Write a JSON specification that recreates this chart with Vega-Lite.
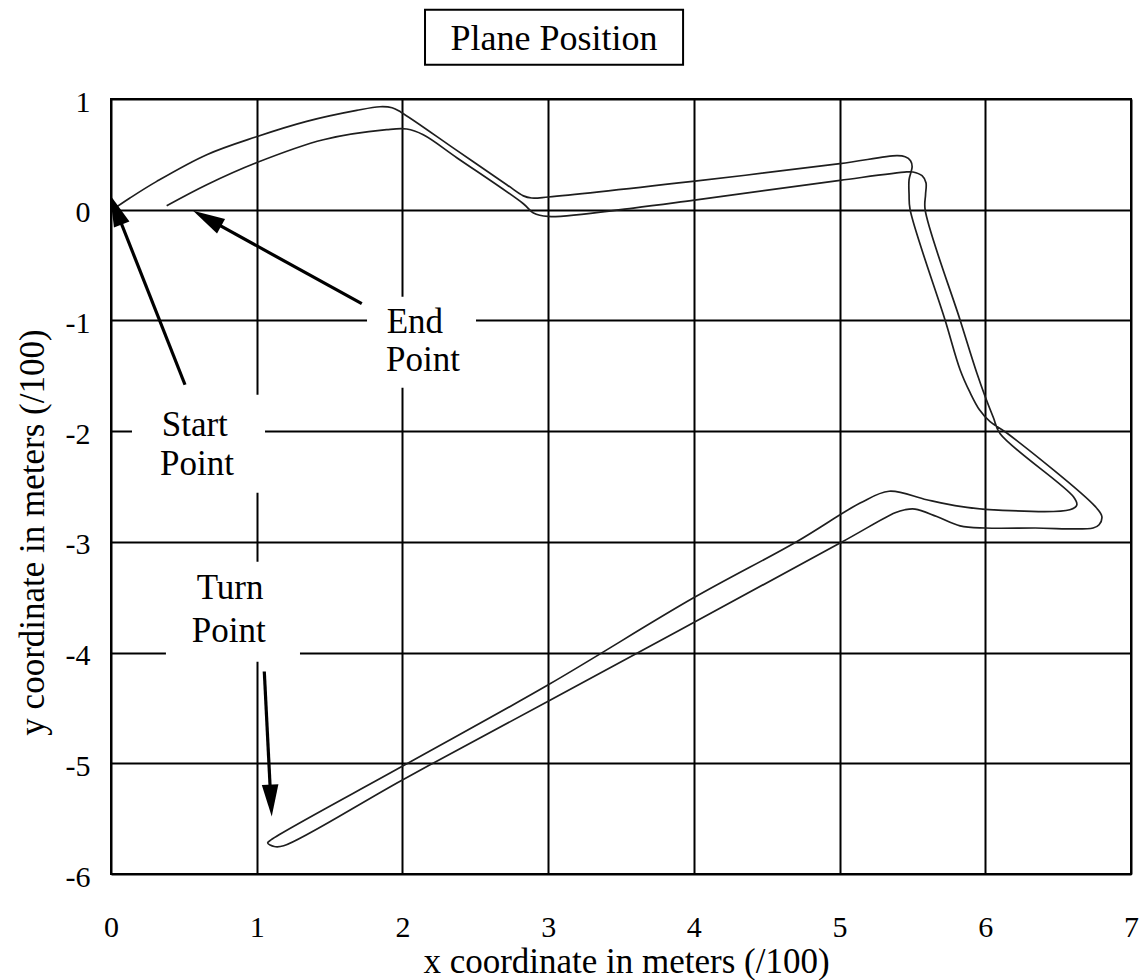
{
  "$schema": "https://vega.github.io/schema/vega-lite/v6.json",
  "width": 1020,
  "height": 775,
  "autosize": {"type": "none"},
  "padding": {"left": 111, "top": 99, "right": 10, "bottom": 106},
  "background": "white",
  "config": {
    "view": {"stroke": "black", "strokeWidth": 2},
    "font": "Liberation Serif",
    "axis": {
      "grid": true,
      "gridColor": "#000000",
      "gridWidth": 2,
      "gridOpacity": 1,
      "domain": false,
      "ticks": false,
      "tickSize": 0,
      "labelFont": "Liberation Serif",
      "labelFontSize": 30,
      "labelColor": "#000000",
      "labelFlush": false,
      "labelOverlap": false,
      "labelBound": false,
      "titleFont": "Liberation Serif",
      "titleFontSize": 35,
      "titleFontWeight": "normal",
      "titleColor": "#000000"
    }
  },
  "datasets": {
    "path": [
      {"i": 1, "x": 0.027, "y": 0.015},
      {"i": 2, "x": 0.13, "y": 0.106},
      {"i": 3, "x": 0.314, "y": 0.256},
      {"i": 4, "x": 0.657, "y": 0.497},
      {"i": 5, "x": 0.993, "y": 0.657},
      {"i": 6, "x": 1.343, "y": 0.798},
      {"i": 7, "x": 1.686, "y": 0.897},
      {"i": 8, "x": 1.846, "y": 0.93},
      {"i": 9, "x": 1.929, "y": 0.921},
      {"i": 10, "x": 1.99, "y": 0.881},
      {"i": 11, "x": 2.373, "y": 0.536},
      {"i": 12, "x": 2.716, "y": 0.226},
      {"i": 13, "x": 2.83, "y": 0.125},
      {"i": 14, "x": 2.887, "y": 0.106},
      {"i": 15, "x": 3.001, "y": 0.115},
      {"i": 16, "x": 3.992, "y": 0.256},
      {"i": 17, "x": 5.003, "y": 0.416},
      {"i": 18, "x": 5.393, "y": 0.488},
      {"i": 19, "x": 5.45, "y": 0.479},
      {"i": 20, "x": 5.487, "y": 0.443},
      {"i": 21, "x": 5.498, "y": 0.388},
      {"i": 22, "x": 5.477, "y": 0.271},
      {"i": 23, "x": 5.477, "y": 0.136},
      {"i": 24, "x": 5.484, "y": 0.0},
      {"i": 25, "x": 5.724, "y": -0.996},
      {"i": 26, "x": 5.827, "y": -1.445},
      {"i": 27, "x": 5.896, "y": -1.653},
      {"i": 28, "x": 5.96, "y": -1.807},
      {"i": 29, "x": 6.033, "y": -1.915},
      {"i": 30, "x": 6.148, "y": -2.017},
      {"i": 31, "x": 6.754, "y": -2.68},
      {"i": 32, "x": 6.8, "y": -2.771},
      {"i": 33, "x": 6.781, "y": -2.846},
      {"i": 34, "x": 6.74, "y": -2.875},
      {"i": 35, "x": 6.342, "y": -2.875},
      {"i": 36, "x": 5.999, "y": -2.875},
      {"i": 37, "x": 5.827, "y": -2.855},
      {"i": 38, "x": 5.667, "y": -2.771},
      {"i": 39, "x": 5.518, "y": -2.704},
      {"i": 40, "x": 5.449, "y": -2.71},
      {"i": 41, "x": 5.381, "y": -2.737},
      {"i": 42, "x": 5.003, "y": -3.011},
      {"i": 43, "x": 3.0, "y": -4.44},
      {"i": 44, "x": 2.0, "y": -5.15},
      {"i": 45, "x": 1.185, "y": -5.745},
      {"i": 46, "x": 1.12, "y": -5.752},
      {"i": 47, "x": 1.075, "y": -5.72},
      {"i": 48, "x": 1.1, "y": -5.69},
      {"i": 49, "x": 2.005, "y": -5.023},
      {"i": 50, "x": 3.001, "y": -4.291},
      {"i": 51, "x": 3.995, "y": -3.508},
      {"i": 52, "x": 4.708, "y": -2.996},
      {"i": 53, "x": 5.141, "y": -2.65},
      {"i": 54, "x": 5.34, "y": -2.543},
      {"i": 55, "x": 5.598, "y": -2.62},
      {"i": 56, "x": 5.827, "y": -2.68},
      {"i": 57, "x": 6.0, "y": -2.706},
      {"i": 58, "x": 6.58, "y": -2.71},
      {"i": 59, "x": 6.628, "y": -2.667},
      {"i": 60, "x": 6.605, "y": -2.593},
      {"i": 61, "x": 6.102, "y": -2.023},
      {"i": 62, "x": 6.056, "y": -1.879},
      {"i": 63, "x": 5.999, "y": -1.687},
      {"i": 64, "x": 5.942, "y": -1.475},
      {"i": 65, "x": 5.827, "y": -0.996},
      {"i": 66, "x": 5.587, "y": 0.0},
      {"i": 67, "x": 5.59, "y": 0.136},
      {"i": 68, "x": 5.593, "y": 0.244},
      {"i": 69, "x": 5.566, "y": 0.307},
      {"i": 70, "x": 5.504, "y": 0.341},
      {"i": 71, "x": 5.461, "y": 0.341},
      {"i": 72, "x": 5.003, "y": 0.265},
      {"i": 73, "x": 3.992, "y": 0.084},
      {"i": 74, "x": 3.585, "y": 0.015},
      {"i": 75, "x": 2.999, "y": -0.061},
      {"i": 76, "x": 2.899, "y": -0.03},
      {"i": 77, "x": 2.83, "y": 0.054},
      {"i": 78, "x": 2.373, "y": 0.47},
      {"i": 79, "x": 2.143, "y": 0.677},
      {"i": 80, "x": 2.03, "y": 0.729},
      {"i": 81, "x": 1.892, "y": 0.723},
      {"i": 82, "x": 1.457, "y": 0.632},
      {"i": 83, "x": 0.993, "y": 0.422},
      {"i": 84, "x": 0.657, "y": 0.226},
      {"i": 85, "x": 0.382, "y": 0.036}
    ],
    "boxes": [
      {"label": "Start Point", "x": 0.144, "x2": 1.057, "y": -1.671, "y2": -2.556},
      {"label": "End Point", "x": 1.757, "x2": 2.505, "y": -0.786, "y2": -1.608},
      {"label": "Turn Point", "x": 0.377, "x2": 1.297, "y": -3.18, "y2": -4.083}
    ],
    "labels": [
      {"text": "Start", "x": 0.348, "y": -2.048},
      {"text": "Point", "x": 0.336, "y": -2.394},
      {"text": "End", "x": 1.892, "y": -1.112},
      {"text": "Point", "x": 1.887, "y": -1.458},
      {"text": "Turn", "x": 0.588, "y": -3.514},
      {"text": "Point", "x": 0.554, "y": -3.9}
    ],
    "shafts": [
      {"name": "start", "x": 0.508, "y": -1.581, "x2": 0.031, "y2": 0.009},
      {"name": "end", "x": 1.721, "y": -0.849, "x2": 0.653, "y2": -0.074},
      {"name": "turn", "x": 1.052, "y": -4.171, "x2": 1.097, "y2": -5.345}
    ],
    "heads": [
      {"name": "start", "x": -0.007, "y": 0.135},
      {"name": "end", "x": 0.563, "y": -0.009},
      {"name": "turn", "x": 1.103, "y": -5.481}
    ],
    "titlebox": [
      {"text": "Plane Position", "x": 2.155, "x2": 3.926, "y": 1.807, "y2": 1.31, "tx": 3.04, "ty": 1.445}
    ]
  },
  "encoding": {
    "x": {
      "field": "x",
      "type": "quantitative",
      "scale": {"domain": [0, 7], "nice": false, "zero": false},
      "axis": {
        "values": [0, 1, 2, 3, 4, 5, 6, 7],
        "title": "x coordinate in meters (/100)",
        "labelPadding": 38,
        "labelBaseline": "top",
        "titleX": 515,
        "titleY": 98,
        "titleBaseline": "alphabetic",
        "titleAlign": "center"
      }
    },
    "y": {
      "field": "y",
      "type": "quantitative",
      "scale": {"domain": [-6, 1], "nice": false, "zero": false},
      "axis": {
        "values": [-6, -5, -4, -3, -2, -1, 0, 1],
        "labelExpr": "toString(datum.value)",
        "title": "y coordinate in meters (/100)",
        "labelPadding": 21,
        "labelOffset": 3,
        "titleAngle": -90,
        "titleX": -68,
        "titleY": 433,
        "titleAlign": "center",
        "titleBaseline": "alphabetic"
      }
    }
  },
  "layer": [
    {
      "data": {"name": "boxes"},
      "mark": {"type": "rect", "fill": "white", "strokeWidth": 0},
      "encoding": {"x2": {"field": "x2"}, "y2": {"field": "y2"}}
    },
    {
      "data": {"name": "titlebox"},
      "mark": {"type": "rect", "fill": "white", "stroke": "black", "strokeWidth": 2},
      "encoding": {"x2": {"field": "x2"}, "y2": {"field": "y2"}}
    },
    {
      "data": {"name": "titlebox"},
      "mark": {"type": "text", "font": "Liberation Serif", "fontSize": 36, "align": "center", "baseline": "alphabetic", "color": "black"},
      "encoding": {
        "x": {"field": "tx", "type": "quantitative"},
        "y": {"field": "ty", "type": "quantitative"},
        "text": {"field": "text"}
      }
    },
    {
      "data": {"name": "path"},
      "mark": {"type": "line", "stroke": "#1e1e1e", "strokeWidth": 1.7, "interpolate": "catmull-rom"},
      "encoding": {"order": {"field": "i", "type": "quantitative"}}
    },
    {
      "data": {"name": "shafts"},
      "mark": {"type": "rule", "stroke": "black", "strokeWidth": 3.2},
      "encoding": {"x2": {"field": "x2"}, "y2": {"field": "y2"}}
    },
    {
      "data": {"name": "heads"},
      "transform": [{"filter": "datum.name === 'start'"}],
      "mark": {"type": "point", "shape": "M0,0L-0.26,1L0.26,1Z", "size": 4096, "angle": 338.5, "filled": true, "fill": "black", "strokeWidth": 0, "opacity": 1}
    },
    {
      "data": {"name": "heads"},
      "transform": [{"filter": "datum.name === 'end'"}],
      "mark": {"type": "point", "shape": "M0,0L-0.26,1L0.26,1Z", "size": 4096, "angle": 298.9, "filled": true, "fill": "black", "strokeWidth": 0, "opacity": 1}
    },
    {
      "data": {"name": "heads"},
      "transform": [{"filter": "datum.name === 'turn'"}],
      "mark": {"type": "point", "shape": "M0,0L-0.26,1L0.26,1Z", "size": 4096, "angle": 177.1, "filled": true, "fill": "black", "strokeWidth": 0, "opacity": 1}
    },
    {
      "data": {"name": "labels"},
      "mark": {"type": "text", "font": "Liberation Serif", "fontSize": 35, "align": "left", "baseline": "alphabetic", "color": "black"},
      "encoding": {"text": {"field": "text"}}
    }
  ]
}
